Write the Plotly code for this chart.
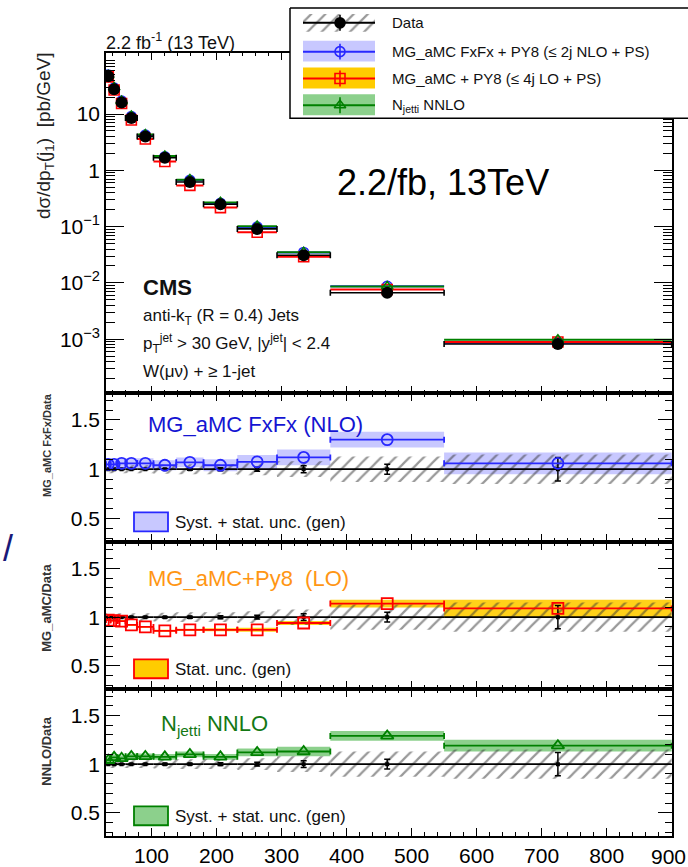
import plotly.graph_objects as go

W, H = 688, 867
FONT = "Liberation Sans, Arial, Helvetica, sans-serif"

# ---------------- data ----------------
bin_edges = [30, 37, 48, 60, 78, 103, 138, 180, 232, 293, 375, 550, 900]
data_xsec = [47, 27.6, 16.0, 8.5, 4.0, 1.67, 0.62, 0.25, 0.091, 0.031, 0.0067, 0.00082]
data_stat_rel = [0.005, 0.005, 0.005, 0.006, 0.006, 0.008, 0.01, 0.015, 0.02, 0.035, 0.05, 0.12]
data_syst_rel = [0.04, 0.04, 0.04, 0.04, 0.04, 0.045, 0.05, 0.05, 0.06, 0.08, 0.13, 0.15]

fxfx_ratio = [1.05, 1.05, 1.06, 1.06, 1.06, 1.04, 1.07, 1.04, 1.075, 1.12, 1.30, 1.06]
fxfx_unc = [0.05, 0.05, 0.05, 0.05, 0.05, 0.05, 0.05, 0.06, 0.07, 0.08, 0.08, 0.11]

lo_ratio = [0.97, 0.965, 0.96, 0.92, 0.90, 0.86, 0.87, 0.87, 0.87, 0.94, 1.14, 1.09]
lo_unc = [0.01, 0.01, 0.01, 0.01, 0.01, 0.01, 0.012, 0.015, 0.02, 0.02, 0.04, 0.09]

nnlo_ratio = [1.04, 1.07, 1.06, 1.08, 1.08, 1.075, 1.10, 1.075, 1.12, 1.13, 1.29, 1.19]
nnlo_unc = [0.03, 0.03, 0.03, 0.03, 0.03, 0.03, 0.03, 0.03, 0.04, 0.05, 0.05, 0.06]

x_ticks = [100, 200, 300, 400, 500, 600, 700, 800, 900]
ylog_ticks = [1e-3, 1e-2, 1e-1, 1, 10]
ylog_labels = ["10<sup>\u22123</sup>", "10<sup>\u22122</sup>", "10<sup>\u22121</sup>", "1", "10"]
ratio_ticks = [0.5, 1, 1.5]
ratio_labels = ["0.5", "1", "1.5"]

# ---------------- colours ----------------
BLUE = "rgb(40,40,255)"
BLUE_BAND = "rgba(110,110,255,0.38)"
RED = "rgb(255,0,0)"
YELLOW = "rgba(255,204,0,0.9)"
GREEN = "rgb(0,128,0)"
GREEN_BAND = "rgba(0,150,0,0.45)"
HATCH = "#333333"

centers = [(a + b) / 2 for a, b in zip(bin_edges[:-1], bin_edges[1:])]
halfw = [(b - a) / 2 for a, b in zip(bin_edges[:-1], bin_edges[1:])]
widths = [b - a for a, b in zip(bin_edges[:-1], bin_edges[1:])]

# ---------------- layout geometry (pixels) ----------------
PX_L, PX_R = 106, 672
PANEL_Y = [53, 396, 546, 694, 842]


def ydom(top, bot):
    return [1 - bot / H, 1 - top / H]


fig = go.Figure()

# ---------------- top panel ----------------
mc_series = [
    (fxfx_ratio, BLUE, "circle-open", 10),
    (lo_ratio, RED, "square-open", 10),
    (nnlo_ratio, GREEN, "triangle-up-open", 10),
]
for ratio, col, sym, ms in mc_series:
    fig.add_trace(go.Scatter(
        x=centers, y=[r * d for r, d in zip(ratio, data_xsec)], mode="markers",
        marker=dict(symbol=sym, size=ms, color=col, line=dict(width=1.6, color=col)),
        error_x=dict(type="data", array=halfw, width=0, thickness=2, color=col),
        xaxis="x", yaxis="y", hoverinfo="skip"))
fig.add_trace(go.Scatter(
    x=centers, y=data_xsec, mode="markers",
    marker=dict(symbol="circle", size=12, color="black"),
    error_x=dict(type="data", array=halfw, width=3, thickness=1.6, color="black"),
    error_y=dict(type="data", array=[d * s for d, s in zip(data_xsec, data_stat_rel)],
                 width=2, thickness=1.5, color="black"),
    xaxis="x", yaxis="y", hoverinfo="skip"))

# ---------------- ratio panels ----------------
ratio_panels = [
    ("x2", "y2", fxfx_ratio, fxfx_unc, BLUE, BLUE_BAND, "circle-open"),
    ("x3", "y3", lo_ratio, lo_unc, RED, YELLOW, "square-open"),
    ("x4", "y4", nnlo_ratio, nnlo_unc, GREEN, GREEN_BAND, "triangle-up-open"),
]
for xa, ya, ratio, unc, col, band, sym in ratio_panels:
    # MC uncertainty band
    fig.add_trace(go.Bar(
        x=centers, y=[2 * u for u in unc], base=[r - u for r, u in zip(ratio, unc)],
        width=widths, marker=dict(color=band, line=dict(width=0)),
        xaxis=xa, yaxis=ya, hoverinfo="skip"))
    # data systematic uncertainty (hatched)
    fig.add_trace(go.Bar(
        x=centers, y=[2 * s for s in data_syst_rel], base=[1 - s for s in data_syst_rel],
        width=widths,
        marker=dict(color="rgba(0,0,0,0)", line=dict(width=0),
                    pattern=dict(shape="/", fgcolor=HATCH, bgcolor="rgba(0,0,0,0)",
                                 size=10, solidity=0.22, fillmode="overlay")),
        xaxis=xa, yaxis=ya, hoverinfo="skip"))
    # data / data
    fig.add_trace(go.Scatter(
        x=centers, y=[d / d for d in data_xsec], mode="markers",
        marker=dict(symbol="square", size=4, color="black"),
        error_x=dict(type="data", array=halfw, width=0, thickness=1.8, color="black"),
        error_y=dict(type="data", array=data_stat_rel, width=3, thickness=1.5, color="black"),
        xaxis=xa, yaxis=ya, hoverinfo="skip"))
    # MC / data
    fig.add_trace(go.Scatter(
        x=centers, y=ratio, mode="markers",
        marker=dict(symbol=sym, size=11, color=col, line=dict(width=1.8, color=col)),
        error_x=dict(type="data", array=halfw, width=3, thickness=1.8, color=col),
        xaxis=xa, yaxis=ya, hoverinfo="skip"))

# ---------------- overlay (pixel coords) for legend box ----------------
LEG = dict(x0=290, x1=700, y0=8, y1=119, sx0=303, sx1=375, mx=340)
fig.add_trace(go.Scatter(
    x=[LEG["x0"], LEG["x1"], LEG["x1"], LEG["x0"], LEG["x0"]],
    y=[LEG["y0"], LEG["y0"], LEG["y1"], LEG["y1"], LEG["y0"]],
    mode="lines", fill="toself", fillcolor="white", line=dict(color="black", width=1.5),
    xaxis="x5", yaxis="y5", hoverinfo="skip"))

leg_rows = [
    (23, "black", None, "circle", "Data"),
    (52, BLUE, "rgba(110,110,255,0.38)", "circle-open", "MG_aMC FxFx + PY8 (\u2264 2j NLO + PS)"),
    (79, RED, "rgb(255,204,0)", "square-open", "MG_aMC + PY8 (\u2264 4j LO + PS)"),
    (106, GREEN, GREEN_BAND, "triangle-up-open", "N<sub>jetti</sub> NNLO"),
]
for yc, col, band, sym, label in leg_rows:
    if band is None:
        fig.add_trace(go.Scatter(
            x=[LEG["sx0"], LEG["sx1"], LEG["sx1"], LEG["sx0"], LEG["sx0"]],
            y=[yc - 9, yc - 9, yc + 9, yc + 9, yc - 9],
            mode="lines", fill="toself", line=dict(width=0),
            fillcolor="rgba(0,0,0,0)",
            fillpattern=dict(shape="/", fgcolor=HATCH, bgcolor="rgba(0,0,0,0)", size=10, solidity=0.22),
            xaxis="x5", yaxis="y5", hoverinfo="skip"))
    else:
        fig.add_trace(go.Scatter(
            x=[LEG["sx0"], LEG["sx1"], LEG["sx1"], LEG["sx0"], LEG["sx0"]],
            y=[yc - 11, yc - 11, yc + 10, yc + 10, yc - 11],
            mode="lines", fill="toself", line=dict(width=0), fillcolor=band,
            xaxis="x5", yaxis="y5", hoverinfo="skip"))
    fig.add_trace(go.Scatter(
        x=[LEG["sx0"], LEG["sx1"]], y=[yc, yc], mode="lines",
        line=dict(color=col, width=2), xaxis="x5", yaxis="y5", hoverinfo="skip"))
    fig.add_trace(go.Scatter(
        x=[LEG["mx"], LEG["mx"]], y=[yc - 8, yc + 8], mode="lines",
        line=dict(color=col, width=1.6), xaxis="x5", yaxis="y5", hoverinfo="skip"))
    fig.add_trace(go.Scatter(
        x=[LEG["mx"]], y=[yc], mode="markers",
        marker=dict(symbol=sym, size=10, color=col, line=dict(width=1.6, color=col)),
        xaxis="x5", yaxis="y5", hoverinfo="skip"))
    fig.add_annotation(x=390, y=yc, xref="x5", yref="y5", text=label, showarrow=False,
                       xanchor="left", yanchor="middle",
                       font=dict(family=FONT, size=15, color="#111"))

# mini legends inside ratio panels
mini = [
    (PANEL_Y[2], BLUE, "rgba(110,110,255,0.38)", "Syst. + stat. unc. (gen)"),
    (PANEL_Y[3], RED, "rgb(255,204,0)", "Stat. unc. (gen)"),
    (PANEL_Y[4], GREEN, GREEN_BAND, "Syst. + stat. unc. (gen)"),
]
for bot, col, band, label in mini:
    fig.add_shape(type="rect", xref="x5", yref="y5", x0=134, x1=168, y0=bot - 30, y1=bot - 11,
                  fillcolor=band, line=dict(color=col, width=1.8), layer="above")
    fig.add_annotation(x=173, y=bot - 20, xref="x5", yref="y5", text=label, showarrow=False,
                       xanchor="left", yanchor="middle",
                       font=dict(family=FONT, size=17, color="#111"))


def txt(x, y, s, size, color="black", xanchor="left", angle=0):
    fig.add_annotation(x=x, y=y, xref="x5", yref="y5", text=s, showarrow=False,
                       xanchor=xanchor, yanchor="middle", textangle=angle,
                       font=dict(family=FONT, size=size, color=color))


txt(104, 42, "2.2 fb<sup>-1</sup> (13 TeV)", 18, "#111")
txt(443, 184, "2.2/fb, 13TeV", 36, "black", xanchor="center")
txt(141, 289, "<b>CMS</b>", 22, "#111")
txt(141, 319, "anti-k<sub>T</sub> (R = 0.4) Jets", 17, "#111")
txt(141, 346, "p<sub>T</sub><sup>jet</sup> > 30 GeV, |y<sup>jet</sup>| < 2.4", 17, "#111")
txt(141, 374, "W(\u03bc\u03bd) + \u2265 1-jet", 17, "#111")
txt(45, 137, "d\u03c3/dp<sub>T</sub>(j<sub>1</sub>)  [pb/GeV]", 19, "#222", xanchor="center", angle=-90)
txt(47, 448, "<b>MG_aMC FxFx/Data</b>", 11, "#333", xanchor="center", angle=-90)
txt(47, 612, "<b>MG_aMC/Data</b>", 13, "#333", xanchor="center", angle=-90)
txt(47, 757, "<b>NNLO/Data</b>", 13, "#333", xanchor="center", angle=-90)
txt(146, 427, "MG_aMC FxFx (NLO)", 22, "rgb(20,20,210)")
txt(146, 583, "MG_aMC+Py8 \u00a0(LO)", 22, "rgb(255,150,20)")
txt(159, 730, "N<sub>jetti</sub> NNLO", 22, "rgb(20,120,20)")
txt(8, 552, "/", 36, "rgb(25,25,120)", xanchor="center")
# last x tick label sits at the very edge of the canvas (cut in the reference)
txt(W, 862, str(x_ticks[-1]), 21, "black", xanchor="right")

# ---------------- axes ----------------
xdom = [PX_L / W, PX_R / W]
common = dict(showline=True, linecolor="black", linewidth=1.5, mirror="ticks", ticks="inside",
              tickcolor="black", tickwidth=1.2, showgrid=False, zeroline=False,
              tickfont=dict(family=FONT, size=21, color="black"))

minor_log = [m * 10.0 ** e for e in range(-4, 3) for m in range(2, 10)]

layout = dict(
    width=W, height=H, margin=dict(l=0, r=0, t=0, b=0),
    paper_bgcolor="white", plot_bgcolor="rgba(0,0,0,0)",
    showlegend=False, barmode="overlay",
)
y_ids = ["y", "y2", "y3", "y4"]
x_ticktext = [str(v) for v in x_ticks[:-1]] + [""]
for i in range(4):
    key = "xaxis" if i == 0 else f"xaxis{i + 1}"
    ax = dict(domain=xdom, range=[bin_edges[0], bin_edges[-1] + 0.5], anchor=y_ids[i],
              tickmode="array", tickvals=x_ticks, ticktext=x_ticktext,
              ticklen=8, showticklabels=(i == 3),
              minor=dict(ticks="inside", ticklen=4, dtick=20, tick0=0, tickcolor="black", tickwidth=1),
              **common)
    if i > 0:
        ax["matches"] = "x"
    layout[key] = ax

layout["yaxis"] = dict(domain=ydom(PANEL_Y[0], PANEL_Y[1]), type="log", range=[-3.96, 2.09],
                       anchor="x", tickmode="array", tickvals=ylog_ticks, ticktext=ylog_labels,
                       ticklen=18,
                       minor=dict(ticks="inside", ticklen=9, tickmode="array", tickvals=minor_log,
                                  tickcolor="black", tickwidth=1),
                       **common)
for i in range(1, 4):
    layout[f"yaxis{i + 1}"] = dict(domain=ydom(PANEL_Y[i], PANEL_Y[i + 1]), range=[0.26, 1.77],
                                   anchor=f"x{i + 1}", tickmode="array", tickvals=ratio_ticks,
                                   ticktext=ratio_labels, ticklen=14,
                                   minor=dict(ticks="inside", ticklen=7, dtick=0.1, tick0=0,
                                              tickcolor="black", tickwidth=1),
                                   **common)
layout["xaxis5"] = dict(domain=[0, 1], range=[0, W], visible=False, fixedrange=True, anchor="y5")
layout["yaxis5"] = dict(domain=[0, 1], range=[H, 0], visible=False, fixedrange=True, anchor="x5")

fig.update_layout(**layout)
fig.write_html("out.html")
